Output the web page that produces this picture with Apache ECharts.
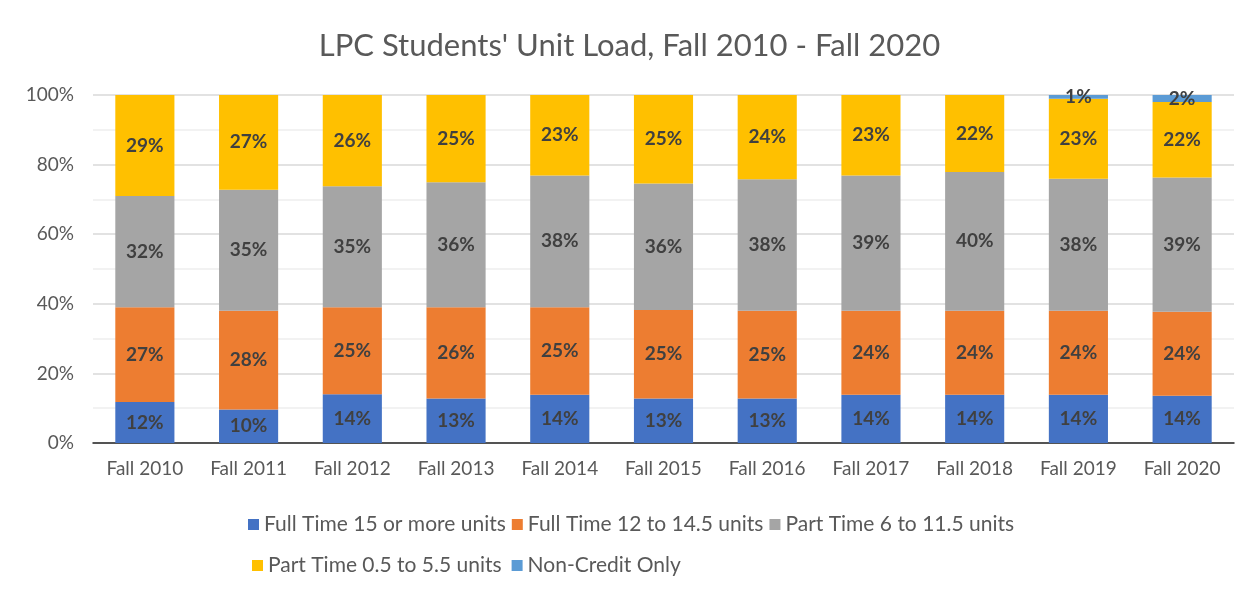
<!DOCTYPE html>
<html>
<head>
<meta charset="utf-8">
<title>LPC Students' Unit Load</title>
<script src="https://cdn.jsdelivr.net/npm/echarts@6/dist/echarts.min.js"></script>
<style>
  html, body { margin: 0; padding: 0; background: #fff; }
  #chart { width: 1259px; height: 592px; }
</style>
</head>
<body>
<div id="chart"></div>
<script>
// categories (fall terms)
const terms = ['Fall 2010', 'Fall 2011', 'Fall 2012', 'Fall 2013', 'Fall 2014', 'Fall 2015',
  'Fall 2016', 'Fall 2017', 'Fall 2018', 'Fall 2019', 'Fall 2020']

// share of students per unit load, in percent
const fullTime15 = [11.8, 9.6, 14.0, 12.8, 13.9, 12.8, 12.8, 13.9, 13.9, 13.9, 13.6]
const fullTime12 = [27.2, 28.4, 25.0, 26.2, 25.1, 25.4, 25.2, 24.1, 24.1, 24.1, 24.1]
const partTime6 = [32.0, 34.8, 34.8, 35.9, 37.9, 36.4, 37.8, 38.9, 39.9, 37.9, 38.6]
const partTime05 = [29.0, 27.2, 26.2, 25.1, 23.1, 25.4, 24.2, 23.1, 22.1, 23.0, 21.7]
const nonCredit = [null, null, null, null, null, null, null, null, null, 1.1, 2.0]

const seriesNames = ['Full Time 15 or more units', 'Full Time 12 to 14.5 units',
  'Part Time 6 to 11.5 units', 'Part Time 0.5 to 5.5 units', 'Non-Credit Only']
const seriesData = [fullTime15, fullTime12, partTime6, partTime05, nonCredit]
const seriesColors = ['#4472C4', '#ED7D31', '#A5A5A5', '#FFC000', '#5B9BD5']

const yTicks = [0, 20, 40, 60, 80, 100]

const fontFamily = 'Lato, "Open Sans", sans-serif'

const chart = echarts.init(document.getElementById('chart'))

const option = {
  animation: false,
  textStyle: { fontFamily: fontFamily },
  title: {
    text: "LPC Students' Unit Load, Fall 2010 - Fall 2020",
    left: 'center',
    top: 25,
    textStyle: { fontSize: 31, fontWeight: 'normal', color: '#595959', fontFamily: fontFamily }
  },
  legend: [
    {
      data: seriesNames.slice(0, 3),
      left: 243,
      top: 509,
      itemWidth: 11,
      itemHeight: 11,
      itemGap: 6,
      icon: 'rect',
      textStyle: { fontSize: 21, color: '#595959' }
    },
    {
      data: seriesNames.slice(3),
      left: 247,
      top: 550,
      itemWidth: 11,
      itemHeight: 11,
      itemGap: 10,
      icon: 'rect',
      textStyle: { fontSize: 21, color: '#595959' }
    }
  ],
  grid: {
    left: 93,
    right: 25,
    top: 95,
    height: 348
  },
  xAxis: {
    type: 'category',
    data: terms,
    axisTick: { show: false },
    axisLine: { lineStyle: { color: '#262626', width: 1.5 } },
    axisLabel: { fontSize: 19, color: '#595959', margin: 16 }
  },
  yAxis: {
    type: 'value',
    min: 0,
    max: 100,
    interval: 20,
    axisLabel: {
      fontSize: 19,
      color: '#595959',
      margin: 19,
      formatter: v => (yTicks.includes(v) ? v + '%' : '')
    },
    splitLine: { lineStyle: { color: '#d9d9d9', width: 1.5 } },
    minorTick: { show: false, splitNumber: 2 },
    minorSplitLine: { show: true, lineStyle: { color: '#eeeeee', width: 1.5 } }
  },
  series: seriesNames.map((name, i) => ({
    name: name,
    type: 'bar',
    stack: 'total',
    barWidth: '57%',
    data: seriesData[i],
    itemStyle: { color: seriesColors[i] },
    label: {
      show: true,
      position: 'inside',
      fontSize: 19,
      fontWeight: 'bold',
      color: '#404040',
      formatter: p => (p.value == null ? '' : Math.round(p.value) + '%')
    }
  }))
}

chart.setOption(option)
</script>
</body>
</html>
